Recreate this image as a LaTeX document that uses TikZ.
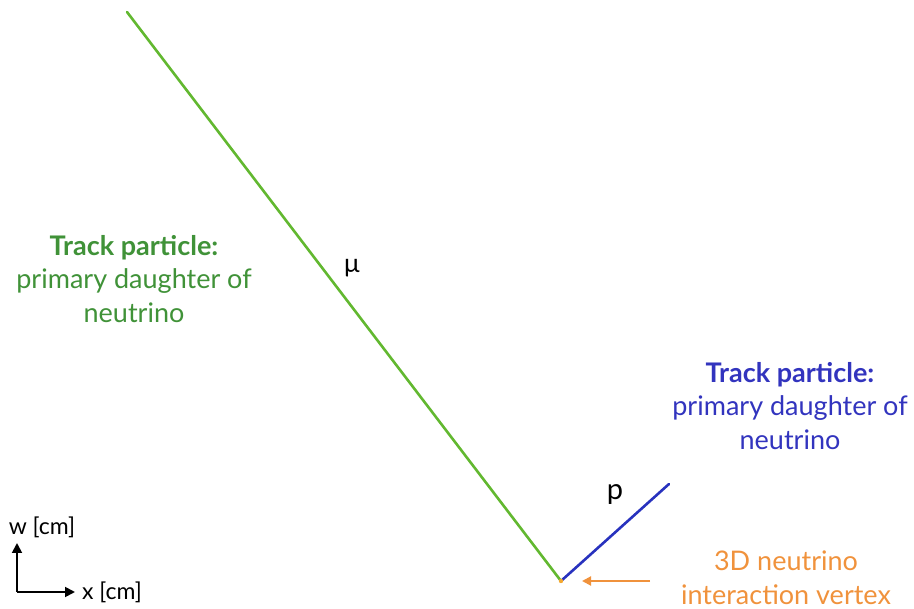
\documentclass[tikz,border=0pt]{standalone}
\usepackage{fontspec}
\setmainfont{Lato}
\usetikzlibrary{arrows.meta}
\definecolor{trkgreen}{RGB}{98,184,48}
\definecolor{txtgreen}{RGB}{64,146,56}
\definecolor{trkblue}{RGB}{40,50,190}
\definecolor{txtblue}{RGB}{50,52,190}
\definecolor{vtxorange}{RGB}{240,146,60}
\begin{document}
\begin{tikzpicture}[x=1pt,y=-1pt,
  lbl/.style={align=center,font=\fontsize{27}{33.5}\selectfont,inner sep=0pt},
  axlbl/.style={font=\fontsize{23}{24}\selectfont,inner sep=0pt,text=black},
  trk/.style={line width=2.6pt,line cap=round}]
\useasboundingbox (0,0) rectangle (914,609);
\coordinate (mustart) at (127,12);
\coordinate (vtx) at (561,581);
\coordinate (pend) at (669,484);
\draw[trk,trkgreen] (mustart) -- (vtx);
\draw[trk,trkblue] (vtx) -- (pend);
\fill[vtxorange!80!yellow] (vtx) circle (2.2);
\node[font=\fontsize{26}{28}\selectfont] (mu) at (352,268) {μ};
\node[font=\fontsize{29}{30}\selectfont] (p) at (615,495) {p};
\node[lbl,text=txtgreen] (glbl) at (134,279) {\textbf{Track particle:}\\primary daughter of\\neutrino};
\node[lbl,text=txtblue] (blbl) at (790,406) {\textbf{Track particle:}\\primary daughter of\\neutrino};
\node[lbl,text=vtxorange] (vlbl) at (786,578) {3D neutrino\\interaction vertex};
\coordinate (arrtail) at (650,581);
\coordinate (arrhead) at (582,581);
\draw[vtxorange,line width=2pt,-{Triangle[length=9pt,width=9pt]}] (arrtail) -- (arrhead);
\coordinate (orig) at (17,592);
\coordinate (wend) at (17,543);
\coordinate (xend) at (75,592);
\draw[black,line width=1.8pt,-{Triangle[length=10pt,width=10pt]}] (orig) -- (wend);
\draw[black,line width=1.8pt,-{Triangle[length=10pt,width=10pt]}] (orig) -- (xend);
\node[axlbl] (wl) at (42,527) {w [cm]};
\node[axlbl] (xl) at (112,592) {x [cm]};
\end{tikzpicture}
\end{document}
